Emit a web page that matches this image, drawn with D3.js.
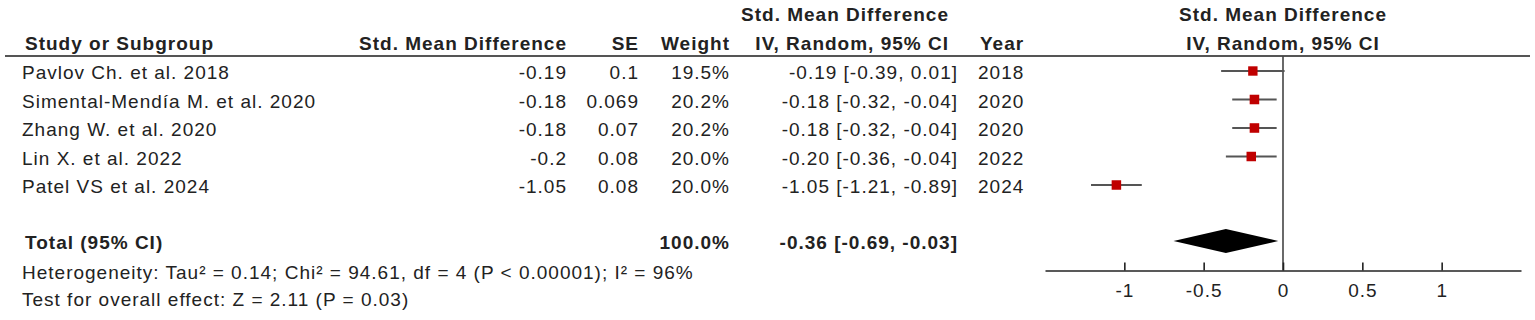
<!DOCTYPE html>
<html lang="en">

<head>
    <meta charset="UTF-8">
    <title>Forest plot</title>
    <script src="https://d3js.org/d3.v7.min.js"></script>
    <style>
        body {
            margin: 0;
            background: #fff;
        }

        svg text {
            font-family: "Liberation Sans", Arial, sans-serif;
            font-size: 19px;
            letter-spacing: 1px;
            fill: #222;
        }

        .hd {
            font-weight: bold;
        }
    </style>
</head>

<body>
    <div id="chart"></div>
    <script>
        // data
        var studies = ["Pavlov Ch. et al. 2018", "Simental-Mendía M. et al. 2020", "Zhang W. et al. 2020", "Lin X. et al. 2022", "Patel VS et al. 2024"];
        var smd = [-0.19, -0.18, -0.18, -0.2, -1.05];
        var se = [0.1, 0.069, 0.07, 0.08, 0.08];
        var weight = [19.5, 20.2, 20.2, 20.0, 20.0];
        var ciLow = [-0.39, -0.32, -0.32, -0.36, -1.21];
        var ciHigh = [0.01, -0.04, -0.04, -0.04, -0.89];
        var years = [2018, 2020, 2020, 2022, 2024];
        var total = [-0.36, -0.69, -0.03]; // estimate, lower, upper
        var totalWeight = 100.0;
        var tickVals = [-1, -0.5, 0, 0.5, 1];
        var hetText = "Heterogeneity: Tau² = 0.14; Chi² = 94.61, df = 4 (P < 0.00001); I² = 96%";
        var testText = "Test for overall effect: Z = 2.11 (P = 0.03)";

        var W = 1535, H = 320;
        var svg = d3.select("#chart").append("svg").attr("width", W).attr("height", H);

        var x = d3.scaleLinear().domain([-1.5, 1.5]).range([1045, 1521]);
        var y = d3.scaleLinear().domain([0, studies.length - 1]).range([71, 185]);
        var sz = d3.scaleSqrt().domain([0, 20]).range([0, 9.5]);

        var fmt = v => (v < 0 ? "-" : "") + Math.abs(v).toFixed(2);
        var ci = (m, l, h) => fmt(m) + " [" + fmt(l) + ", " + fmt(h) + "]";

        function txt(s, tx, ty, anchor, cls) {
            return svg.append("text").attr("x", tx).attr("y", ty)
                .attr("text-anchor", anchor || "start").attr("class", cls || null).text(s);
        }

        // headers
        txt("Std. Mean Difference", 949, 21, "end", "hd");
        txt("Std. Mean Difference", x(0), 21, "middle", "hd");
        txt("Study or Subgroup", 25, 50, "start", "hd");
        txt("Std. Mean Difference", 567, 50, "end", "hd");
        txt("SE", 639, 50, "end", "hd");
        txt("Weight", 730, 50, "end", "hd");
        txt("IV, Random, 95% CI", 949, 50, "end", "hd");
        txt("Year", 980, 50, "start", "hd");
        txt("IV, Random, 95% CI", x(0), 50, "middle", "hd");

        svg.append("line").attr("x1", 5).attr("x2", 1530).attr("y1", 56).attr("y2", 56)
            .attr("stroke", "#555").attr("stroke-width", 2);

        // study rows
        studies.forEach(function (s, i) {
            var ty = y(i) + 8;
            txt(s, 22, ty);
            txt(String(smd[i]), 567, ty, "end");
            txt(String(se[i]), 639, ty, "end");
            txt(weight[i].toFixed(1) + "%", 730, ty, "end");
            txt(ci(smd[i], ciLow[i], ciHigh[i]), 958, ty, "end");
            txt(String(years[i]), 978, ty);
        });

        // zero line
        svg.append("line").attr("x1", x(0)).attr("x2", x(0)).attr("y1", 56).attr("y2", 270.5)
            .attr("stroke", "#444").attr("stroke-width", 1.6);

        // CI whiskers and squares
        svg.selectAll(".ci").data(studies).enter().append("line")
            .attr("x1", (d, i) => x(ciLow[i])).attr("x2", (d, i) => x(ciHigh[i]))
            .attr("y1", (d, i) => y(i)).attr("y2", (d, i) => y(i))
            .attr("stroke", "#555").attr("stroke-width", 2);

        svg.selectAll(".sq").data(studies).enter().append("rect")
            .attr("x", (d, i) => x(smd[i]) - sz(weight[i]) / 2)
            .attr("y", (d, i) => y(i) - sz(weight[i]) / 2)
            .attr("width", (d, i) => sz(weight[i]))
            .attr("height", (d, i) => sz(weight[i]))
            .attr("fill", "#c00000");

        // total row
        var ty0 = 241;
        txt("Total (95% CI)", 25, ty0 + 8, "start", "hd");
        txt(totalWeight.toFixed(1) + "%", 730, ty0 + 8, "end", "hd");
        txt(ci(total[0], total[1], total[2]), 958, ty0 + 8, "end", "hd");

        svg.append("polygon")
            .attr("points", [[x(total[1]), ty0], [x(total[0]), ty0 - 12], [x(total[2]), ty0], [x(total[0]), ty0 + 12]].join(" "))
            .attr("fill", "#000");

        txt(hetText, 22, 279);
        txt(testText, 22, 306);

        // axis
        var axis = d3.axisBottom(x).tickValues(tickVals).tickSize(-8).tickSizeOuter(0)
            .tickFormat(d => String(d));
        var g = svg.append("g").attr("transform", "translate(0,270.5)").call(axis);
        g.select(".domain").attr("stroke", "#222").attr("stroke-width", 1.6);
        g.selectAll(".tick line").attr("stroke", "#222").attr("stroke-width", 1.6);
        g.selectAll(".tick text").attr("y", 26).attr("dy", 0)
            .attr("font-family", null).attr("font-size", null).attr("fill", null);
        g.attr("font-family", null).attr("font-size", null);
    </script>
</body>

</html>
